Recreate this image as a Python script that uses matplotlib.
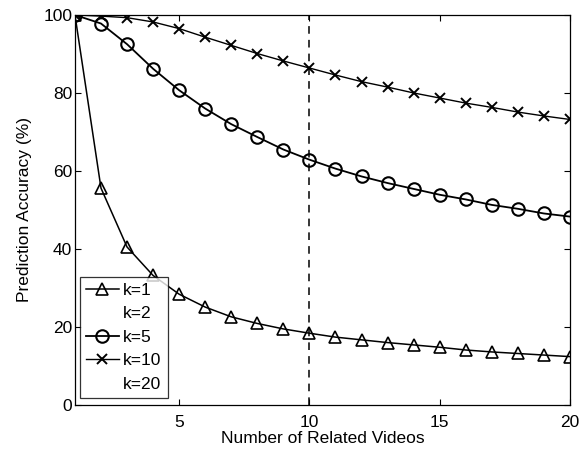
import numpy as np
import matplotlib.pyplot as plt

plt.rcParams['font.family'] = ['Liberation Sans', 'DejaVu Sans']

# number of related videos (x axis)
n_videos = np.arange(1, 21)

# prediction accuracy (%) for each k
acc_k1 = [100, 55.6, 40.5, 33.2, 28.4, 25.1, 22.6, 20.9, 19.5, 18.4,
          17.4, 16.7, 16.0, 15.4, 14.8, 14.1, 13.6, 13.2, 12.8, 12.4]
acc_k2 = [100] * 20
acc_k5 = [100, 97.8, 92.5, 86.2, 80.7, 76.0, 72.0, 68.7, 65.5, 62.9,
          60.6, 58.6, 56.9, 55.4, 53.9, 52.7, 51.3, 50.3, 49.1, 48.3]
acc_k10 = [100, 99.7, 99.3, 98.2, 96.5, 94.3, 92.2, 90.1, 88.2, 86.4,
           84.6, 82.9, 81.5, 80.0, 78.7, 77.4, 76.3, 75.1, 74.1, 73.2]
acc_k20 = [100] * 20

fig = plt.figure(figsize=(5.81, 4.53), dpi=100)
ax = fig.add_axes([0.129, 0.106, 0.852, 0.861])

ax.plot(n_videos, acc_k1, '-^', color='black', lw=1.1, ms=9,
        mfc='none', mew=1.2, label='k=1')
ax.plot(n_videos, acc_k2, linestyle='none', color='white', label='k=2')
ax.plot(n_videos, acc_k5, '-o', color='black', lw=1.3, ms=9,
        mfc='none', mew=1.5, label='k=5')
ax.plot(n_videos, acc_k10, '-x', color='black', lw=1.0, ms=7,
        mew=1.4, label='k=10')
ax.plot(n_videos, acc_k20, linestyle='none', color='white', label='k=20')

# marker at 10 related videos
ax.axvline(10, color='black', ls=(0, (5, 4)), lw=1.1)

ax.set_xlim(1, 20)
ax.set_ylim(0, 100)
ax.set_xticks([5, 10, 15, 20])
ax.set_yticks([0, 20, 40, 60, 80, 100])
ax.tick_params(direction='in', top=True, right=True, labelsize=12.5,
               length=4, width=0.8)
ax.tick_params(axis='x', pad=7)
ax.tick_params(axis='y', pad=2)
for s in ax.spines.values():
    s.set_linewidth(0.9)

ax.set_xlabel('Number of Related Videos', fontsize=12.5, labelpad=1)
ax.set_ylabel('Prediction Accuracy (%)', fontsize=12.5, labelpad=8)

leg = ax.legend(loc='lower left', bbox_to_anchor=(0.01, 0.018),
                fontsize=12.5, frameon=True, fancybox=False,
                edgecolor='black', borderaxespad=0, handlelength=1.9,
                handletextpad=0.25, labelspacing=0.48, borderpad=0.35)
leg.get_frame().set_linewidth(0.9)

fig.savefig('out.png', dpi=100)
